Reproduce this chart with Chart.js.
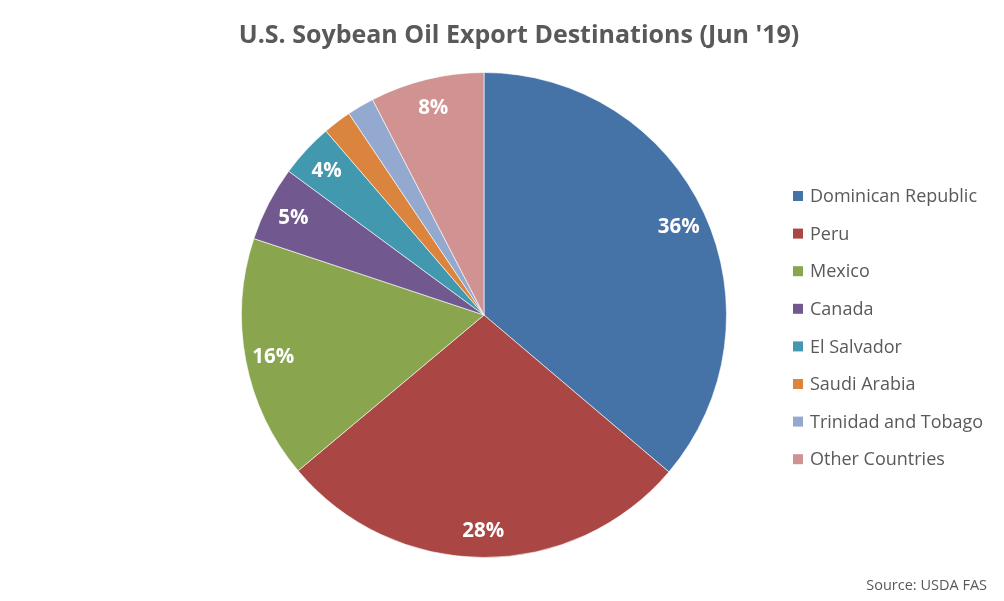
<!DOCTYPE html>
<html>
<head>
<meta charset="utf-8">
<script src="https://cdn.jsdelivr.net/npm/chart.js@4.4.1/dist/chart.umd.min.js"></script>
<style>
  html, body { margin: 0; padding: 0; background: #ffffff; }
  #wrap { width: 1004px; height: 601px; position: relative; }
</style>
</head>
<body>
<div id="wrap"><canvas id="pieChart" width="1004" height="601"></canvas></div>
<script>
const chartTitle = "U.S. Soybean Oil Export Destinations (Jun '19)";
const sourceNote = 'Source: USDA FAS';

const countries = ['Dominican Republic', 'Peru', 'Mexico', 'Canada', 'El Salvador',
    'Saudi Arabia', 'Trinidad and Tobago', 'Other Countries'];
const shares = [36.2, 27.7, 16.2, 5.0, 3.6, 1.9, 1.8, 7.6];
const sliceColors = ['#4572a7', '#aa4643', '#89a54e', '#71588f', '#4198af',
    '#db843d', '#93a9cf', '#d19392'];

const FONT = "'Open Sans', 'Noto Sans', sans-serif";
const TEXT_GREY = '#595959';

// percent labels inside the slices (small slices skipped, like the original)
const sliceLabels = {
    id: 'sliceLabels',
    afterDatasetsDraw(chart) {
        const ctx = chart.ctx;
        const total = shares.reduce((a, b) => a + b, 0);
        const meta = chart.getDatasetMeta(0);
        ctx.save();
        ctx.fillStyle = '#ffffff';
        ctx.font = `bold 20.5px ${FONT}`;
        ctx.textAlign = 'center';
        ctx.textBaseline = 'middle';
        meta.data.forEach((arc, i) => {
            const pct = Math.round(shares[i] / total * 100);
            if (shares[i] / total < 0.03) return;
            const mid = (arc.startAngle + arc.endAngle) / 2;
            const r = arc.outerRadius * 0.885;
            // +2px: Open Sans sits a bit high with a 'middle' baseline
            ctx.fillText(pct + '%', arc.x + Math.cos(mid) * r, arc.y + Math.sin(mid) * r + 2);
        });
        ctx.restore();
    }
};

// title, legend and source note
const decorations = {
    id: 'decorations',
    afterDraw(chart) {
        const ctx = chart.ctx;
        ctx.save();
        ctx.fillStyle = TEXT_GREY;
        ctx.font = `bold 25px ${FONT}`;
        ctx.textAlign = 'center';
        ctx.textBaseline = 'middle';
        ctx.fillText(chartTitle, 519, 36);

        ctx.font = `18px ${FONT}`;
        ctx.textAlign = 'left';
        countries.forEach((name, i) => {
            const y = 196 + i * 37.6;
            ctx.fillStyle = sliceColors[i];
            ctx.fillRect(793, y - 5, 10, 10);
            ctx.fillStyle = TEXT_GREY;
            ctx.fillText(name, 810, y + 1);
        });

        ctx.font = `14.5px ${FONT}`;
        ctx.textAlign = 'right';
        ctx.fillText(sourceNote, 987, 586);
        ctx.restore();
    }
};

new Chart(document.getElementById('pieChart'), {
    type: 'pie',
    data: {
        labels: countries,
        datasets: [{
            data: shares,
            backgroundColor: sliceColors,
            borderColor: 'rgba(255,255,255,0.6)',
            borderWidth: 1
        }]
    },
    options: {
        responsive: false,
        animation: false,
        layout: { padding: { left: 241, right: 277, top: 72, bottom: 43 } },
        plugins: {
            legend: { display: false },
            title: { display: false },
            tooltip: { enabled: false }
        }
    },
    plugins: [sliceLabels, decorations]
});
</script>
</body>
</html>
